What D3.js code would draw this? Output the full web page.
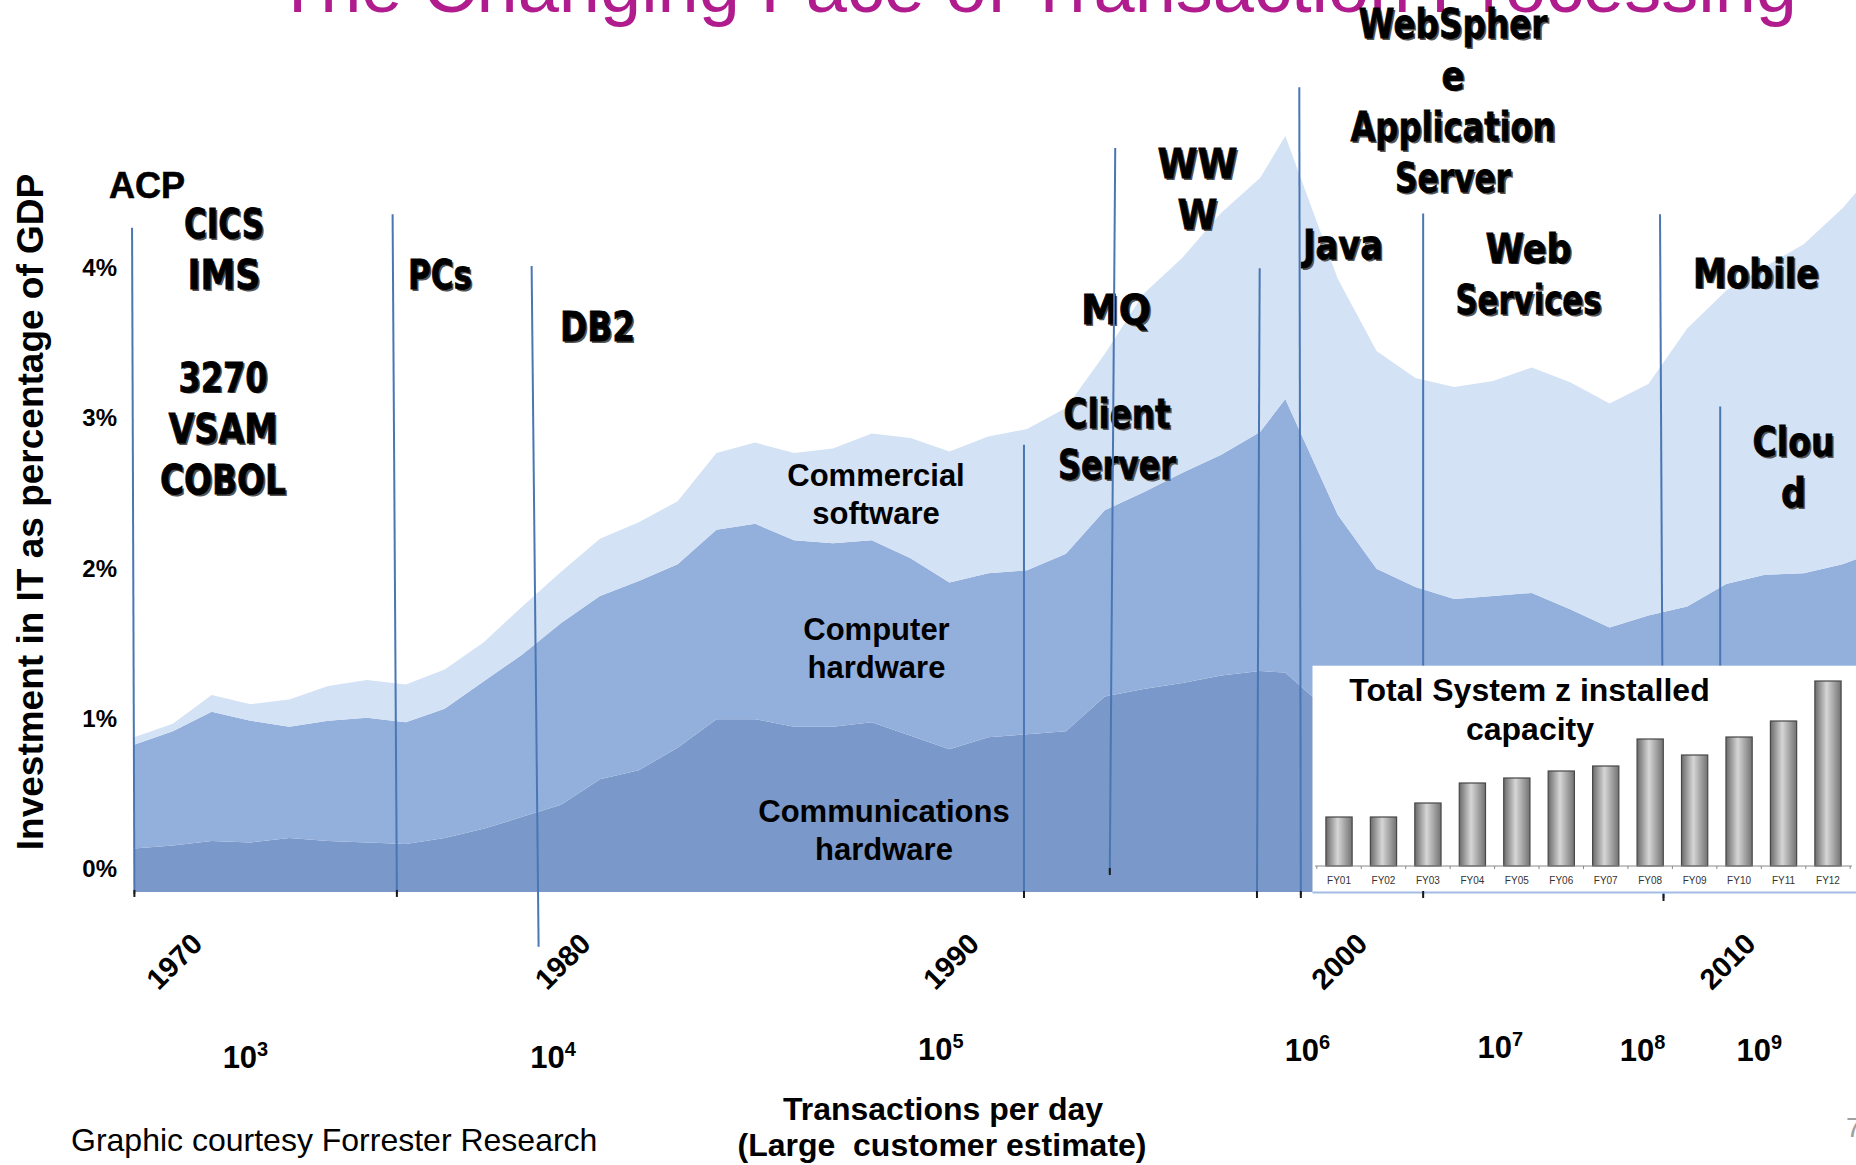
<!DOCTYPE html>
<html><head><meta charset="utf-8">
<script src="https://cdn.jsdelivr.net/npm/d3@7"></script>
<style>
html,body{margin:0;padding:0;background:#fff;overflow:hidden;}
svg{display:block;}
text{white-space:pre;}
</style></head>
<body>
<svg id="chart" width="1856" height="1165"></svg>
<script>
// ---------------- DATA ----------------
// sample years (the dot-com peak sits just before 2000 on the picture)
const years = [1970,1971,1972,1973,1974,1975,1976,1977,1978,1979,
  1980,1981,1982,1983,1984,1985,1986,1987,1988,1989,
  1990,1991,1992,1993,1994,1995,1996,1997,1998,1999,
  1999.65,2001,2002,2003,2004,2005,2006,2007,2008,2009,
  2010,2011,2012,2013,2014,2015];
// IT investment as % of GDP, by component
const commHardware = [0.29,0.31,0.34,0.33,0.36,0.34,0.33,0.32,0.36,0.42,
  0.50,0.58,0.75,0.81,0.96,1.15,1.15,1.10,1.10,1.13,
  1.04,0.95,1.03,1.05,1.07,1.30,1.35,1.39,1.44,1.47,
  1.46,1.15,1.05,1.00,0.98,1.00,1.02,1.00,0.98,1.00,
  1.02,1.05,1.08,1.10,1.12,1.15];
const compHardware = [0.69,0.76,0.86,0.81,0.74,0.80,0.83,0.81,0.86,0.98,
  1.08,1.21,1.22,1.26,1.22,1.26,1.30,1.24,1.22,1.21,
  1.18,1.11,1.09,1.09,1.18,1.24,1.31,1.40,1.47,1.59,
  1.82,1.36,1.10,1.03,0.97,0.97,0.97,0.88,0.78,0.84,
  0.88,1.00,1.03,1.02,1.06,1.13];
const commSoftware = [0.05,0.05,0.11,0.11,0.18,0.23,0.25,0.25,0.26,0.26,
  0.32,0.34,0.38,0.39,0.42,0.51,0.54,0.58,0.63,0.71,
  0.80,0.87,0.91,0.94,0.97,1.04,1.32,1.43,1.61,1.69,
  1.75,1.57,1.45,1.39,1.41,1.43,1.50,1.51,1.49,1.54,
  1.85,1.95,2.05,2.19,2.37,2.57];
const seriesKeys = ['commHardware','compHardware','commSoftware'];
const seriesNames = [['Communications','hardware'],['Computer','hardware'],['Commercial','software']];

const yTicks = [0,1,2,3,4];
const decadeTicks = [1970,1980,1990,2000,2010];

// transactions per day (large customer estimate)
const txnExponents = [3,4,5,6,7,8,9];
const txnYears = [1972.87,1980.79,1990.78,2000.22,2005.19,2008.85,2011.86];

// technology milestones (vertical markers)
const milestoneYearTop    = [1969.95,1976.66,1980.24,1992.92,1995.27,1998.99,2000.01,2003.20,2009.30,2010.85];
const milestoneYearBottom = [1970.01,1976.77,1980.42,1992.92,1995.13,1998.92,2000.05,2003.20,2009.39,2010.85];
const milestoneTop    = [4.42,4.51,4.165,2.976,4.95,4.15,5.354,4.515,4.51,3.23];
const milestoneBottom = [-0.013,-0.013,-0.364,-0.02,0.133,-0.02,-0.02,-0.02,-0.04,-0.007];
const milestoneEndMark = [true,true,false,true,true,true,true,true,true,false];

const milestoneLabels = [['CICS','IMS'],['3270','VSAM','COBOL'],['PCs'],['DB2'],['MQ'],['Client','Server'],
  ['WW','W'],['WebSpher','e','Application','Server'],['Java'],['Web','Services'],['Mobile'],['Clou','d']];

// inset: Total System z installed capacity
const fyLabels = ['FY01','FY02','FY03','FY04','FY05','FY06','FY07','FY08','FY09','FY10','FY11','FY12'];
const fyCapacity = [49,49,63,83,88,95,100,127,111,129,145,185];

// ---------------- LAYOUT ----------------
const svg = d3.select('#chart');
const SANS = "'Liberation Sans', Arial, sans-serif";
const LABELF = "'DejaVu Sans', Verdana, sans-serif";

const x = d3.scaleLinear().domain([1970, 2010]).range([134, 1687.2]);
const y = d3.scaleLinear().domain([0, 4]).range([892, 290.8]);

const colors = {commHardware:'#7a98c9', compHardware:'#93b0dd', commSoftware:'#d3e2f4'};

// title (partly off the top)
svg.append('text').attr('x', 275).attr('y', 12)
  .attr('font-family', SANS).attr('font-size', 74).attr('fill', '#b01c8e')
  .text('The Changing Face of Transaction Processing');

// stacked areas
const table = years.map((yr, i) => ({year: yr, commHardware: commHardware[i], compHardware: compHardware[i], commSoftware: commSoftware[i]}));
const stacked = d3.stack().keys(seriesKeys)(table);
const area = d3.area().x(d => x(d.data.year)).y0(d => y(d[0])).y1(d => y(d[1]));
svg.append('g').selectAll('path').data(stacked).join('path')
  .attr('d', area).attr('fill', d => colors[d.key]);

// series labels
const seriesLabelCx = [884, 876.5, 876];
const seriesLabelY = [822, 640, 486];
const sl = svg.append('g').attr('font-family', SANS).attr('font-weight', 'bold').attr('font-size', 31)
  .attr('text-anchor', 'middle').attr('fill', '#000');
seriesNames.forEach((lines, i) => {
  lines.forEach((t, j) => {
    sl.append('text').attr('x', seriesLabelCx[i]).attr('y', seriesLabelY[i] + j * 37.5).text(t);
  });
});

// y axis
const yAxis = d3.axisLeft(y).tickValues(yTicks).tickFormat(d => d + '%').tickSize(0).tickPadding(0);
const gy = svg.append('g').attr('transform', 'translate(117,-23)').call(yAxis);
gy.select('.domain').remove();
gy.attr('font-family', SANS).attr('font-size', 24).attr('font-weight', 'bold');
gy.selectAll('text').attr('fill', '#000');

// y axis title
svg.append('text').attr('transform', 'translate(43,512) rotate(-90)')
  .attr('text-anchor', 'middle').attr('font-family', SANS).attr('font-weight', 'bold').attr('font-size', 37)
  .attr('fill', '#000').text('Investment in IT as percentage of GDP');

// x axis (decades)
const xAxis = d3.axisBottom(x).tickValues(decadeTicks).tickFormat(d3.format('d')).tickSize(0).tickPadding(0);
const gx = svg.append('g').attr('transform', 'translate(0,961)').call(xAxis);
gx.select('.domain').remove();
gx.attr('font-family', SANS).attr('font-size', 29).attr('font-weight', 'bold');
gx.selectAll('text').attr('y', 0).attr('dy', '0.36em').attr('text-anchor', 'middle')
  .attr('fill', '#000').attr('transform', 'translate(39.5,0) rotate(-45)');

// transactions per day labels
const txnBaseline = [1068, 1068, 1060, 1061, 1058, 1061, 1061];
const tg = svg.append('g').attr('font-family', SANS).attr('font-weight', 'bold').attr('fill', '#000');
txnExponents.forEach((e, i) => {
  const t = tg.append('text').attr('x', x(txnYears[i])).attr('y', txnBaseline[i])
    .attr('text-anchor', 'middle').attr('font-size', 31);
  t.append('tspan').text('10');
  t.append('tspan').attr('font-size', 20).attr('dy', -12).text(String(e));
});

// axis title & source
svg.append('text').attr('x', 943).attr('y', 1120).attr('text-anchor', 'middle')
  .attr('font-family', SANS).attr('font-weight', 'bold').attr('font-size', 32).text('Transactions per day');
svg.append('text').attr('x', 942).attr('y', 1156).attr('text-anchor', 'middle')
  .attr('font-family', SANS).attr('font-weight', 'bold').attr('font-size', 32).text('(Large  customer estimate)');
svg.append('text').attr('x', 71).attr('y', 1151)
  .attr('font-family', SANS).attr('font-size', 32).attr('fill', '#000').text('Graphic courtesy Forrester Research');
svg.append('text').attr('x', 1846).attr('y', 1137)
  .attr('font-family', SANS).attr('font-size', 28).attr('fill', '#a0a0a0').text('7');

// milestone labels
svg.append('text').attr('x', 147).attr('y', 198).attr('text-anchor', 'middle')
  .attr('font-family', SANS).attr('font-weight', 'bold').attr('font-size', 36)
  .attr('stroke', '#000').attr('stroke-width', 0.6).text('ACP');
const labelCx = [224, 223, 440, 597.5, 1116, 1117, 1197.5, 1453, 1343, 1528.5, 1756, 1793.5];
const labelY0 = [238, 391.6, 288.8, 341, 324, 428, 178, 38.3, 259, 262.6, 287.5, 456];
const labelLH = 51.3;
const labelWidths = [[80,73],[89,109,126],[64],[75],[70],[107,118],[80,40],[189,23,205,116],[80],[86,146],[126],[82,25]];
const ml = svg.append('g').attr('font-family', LABELF).attr('font-weight', 'bold').attr('font-size', 41)
  .attr('text-anchor', 'middle');
milestoneLabels.forEach((lines, i) => {
  lines.forEach((t, j) => {
    const yy = labelY0[i] + j * labelLH;
    ml.append('text').attr('x', labelCx[i] + 1.8).attr('y', yy + 1.8).attr('fill', '#555')
      .attr('textLength', labelWidths[i][j]).attr('lengthAdjust', 'spacingAndGlyphs').text(t);
    ml.append('text').attr('x', labelCx[i]).attr('y', yy).attr('fill', '#000')
      .attr('stroke', '#000').attr('stroke-width', 0.8)
      .attr('textLength', labelWidths[i][j]).attr('lengthAdjust', 'spacingAndGlyphs').text(t);
  });
});

// milestone lines
svg.append('g').selectAll('line').data(milestoneTop).join('line')
  .attr('x1', (d, i) => x(milestoneYearTop[i])).attr('y1', d => y(d))
  .attr('x2', (d, i) => x(milestoneYearBottom[i])).attr('y2', (d, i) => y(milestoneBottom[i]))
  .attr('stroke', '#4a76b4').attr('stroke-width', 2);

// inset chart
const inset = svg.append('g');
inset.append('rect').attr('x', 1312.5).attr('y', 665.7).attr('width', 560).attr('height', 227).attr('fill', '#fff');
inset.append('line').attr('x1', 1312.5).attr('x2', 1856).attr('y1', 892.5).attr('y2', 892.5)
  .attr('stroke', '#a3bce3').attr('stroke-width', 2);
const defs = svg.append('defs');
const grad = defs.append('linearGradient').attr('id', 'barGrad').attr('x1', '0%').attr('x2', '100%').attr('y1', '0%').attr('y2', '0%');
grad.append('stop').attr('offset', '0%').attr('stop-color', '#6a6a6a');
grad.append('stop').attr('offset', '45%').attr('stop-color', '#d6d6d6');
grad.append('stop').attr('offset', '100%').attr('stop-color', '#727272');

const bx = d3.scaleBand().domain(fyLabels).range([1316.8, 1850.2]).paddingInner(0.41).paddingOuter(0.205);
const by = d3.scaleLinear().domain([0, 185]).range([866, 681]);
inset.append('g').selectAll('rect').data(fyCapacity).join('rect')
  .attr('x', (d, i) => bx(fyLabels[i])).attr('width', bx.bandwidth())
  .attr('y', d => by(d)).attr('height', d => by(0) - by(d))
  .attr('fill', 'url(#barGrad)').attr('stroke', '#474747').attr('stroke-width', 1.2);
inset.append('line').attr('x1', 1315).attr('x2', 1852).attr('y1', by(0)).attr('y2', by(0))
  .attr('stroke', '#8a8a8a').attr('stroke-width', 1);
inset.append('g').selectAll('line').data(fyLabels.concat(['end'])).join('line')
  .attr('x1', (d, i) => bx.range()[0] + i * bx.step()).attr('x2', (d, i) => bx.range()[0] + i * bx.step())
  .attr('y1', by(0)).attr('y2', by(0) + 3).attr('stroke', '#8a8a8a').attr('stroke-width', 1);
const fxAxis = d3.axisBottom(bx).tickSize(0).tickPadding(0);
const gfx = inset.append('g').attr('transform', 'translate(0,880.5)').call(fxAxis);
gfx.select('.domain').remove();
gfx.attr('font-family', SANS).attr('font-size', 10);
gfx.selectAll('text').attr('y', 0).attr('dy', '0.35em').attr('fill', '#333');
inset.append('text').attr('x', 1529.5).attr('y', 701).attr('text-anchor', 'middle')
  .attr('font-family', SANS).attr('font-weight', 'bold').attr('font-size', 32).text('Total System z installed');
inset.append('text').attr('x', 1530).attr('y', 739.5).attr('text-anchor', 'middle')
  .attr('font-family', SANS).attr('font-weight', 'bold').attr('font-size', 32).text('capacity');

// dark end marks of milestone lines
const markIdx = milestoneEndMark.map((m, k) => m ? k : -1).filter(k => k >= 0);
svg.append('g').selectAll('line').data(markIdx).join('line')
  .attr('x1', k => x(milestoneYearBottom[k])).attr('x2', k => x(milestoneYearBottom[k]))
  .attr('y1', k => y(milestoneBottom[k]) - 4).attr('y2', k => y(milestoneBottom[k]) + 3)
  .attr('stroke', '#1a1a1a').attr('stroke-width', 2);
</script>
</body></html>
